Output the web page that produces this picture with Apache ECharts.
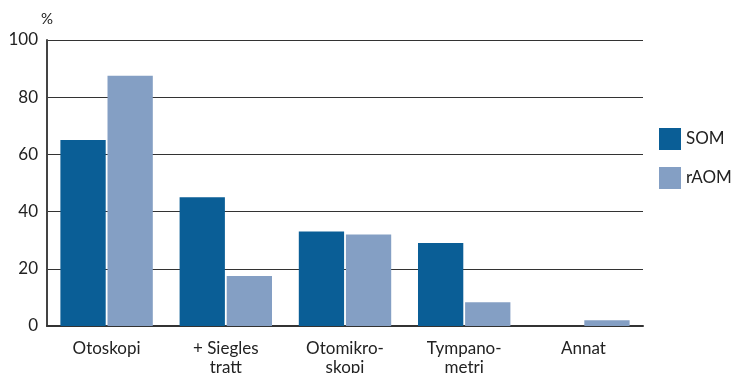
<!DOCTYPE html>
<html>
<head>
<meta charset="utf-8">
<script src="https://cdn.jsdelivr.net/npm/echarts@6/dist/echarts.min.js"></script>
<style>
  html, body { margin: 0; padding: 0; background: #fff; }
  #main { width: 735px; height: 373px; }
</style>
</head>
<body>
<div id="main"></div>
<script>
var categories = ['Otoskopi', '+ Siegles\ntratt', 'Otomikro-\nskopi', 'Tympano-\nmetri', 'Annat'];
var somValues = [65, 45, 33, 29, 0];
var raomValues = [87.5, 17.5, 32, 8.3, 2];
var yTicks = [0, 20, 40, 60, 80, 100];

var chart = echarts.init(document.getElementById('main'));
var font = 'Lato, "Open Sans", sans-serif';

chart.setOption({
  animation: false,
  textStyle: { fontFamily: font },
  grid: { left: 47, right: 92, top: 40, bottom: 47, outerBoundsMode: 'none' },
  legend: {
    orient: 'vertical',
    left: 654,
    top: 123,
    itemWidth: 22,
    itemHeight: 22,
    itemGap: 17,
    icon: 'rect',
    textStyle: { fontSize: 17, color: '#222', fontFamily: font },
    data: ['SOM', 'rAOM']
  },
  xAxis: {
    type: 'category',
    data: categories,
    axisLine: { lineStyle: { color: '#333', width: 2 } },
    axisTick: { show: false },
    axisLabel: { fontSize: 17, color: '#222', lineHeight: 19, margin: 13 }
  },
  yAxis: {
    type: 'value',
    min: yTicks[0],
    max: yTicks[yTicks.length - 1],
    interval: 20,
    name: '%',
    nameLocation: 'end',
    nameGap: 13,
    nameTextStyle: { fontSize: 15, color: '#222', align: 'center' },
    axisLine: { show: true, lineStyle: { color: '#444', width: 2 } },
    axisTick: { show: false },
    axisLabel: { fontSize: 17, color: '#222', margin: 9 },
    splitLine: { lineStyle: { color: '#333', width: 1 } }
  },
  series: [
    {
      name: 'SOM',
      type: 'bar',
      data: somValues,
      barWidth: '38%',
      barGap: '4%',
      itemStyle: { color: '#0a5e96' }
    },
    {
      name: 'rAOM',
      type: 'bar',
      data: raomValues,
      barWidth: '38%',
      itemStyle: { color: '#849fc4' }
    }
  ]
});
</script>
</body>
</html>
